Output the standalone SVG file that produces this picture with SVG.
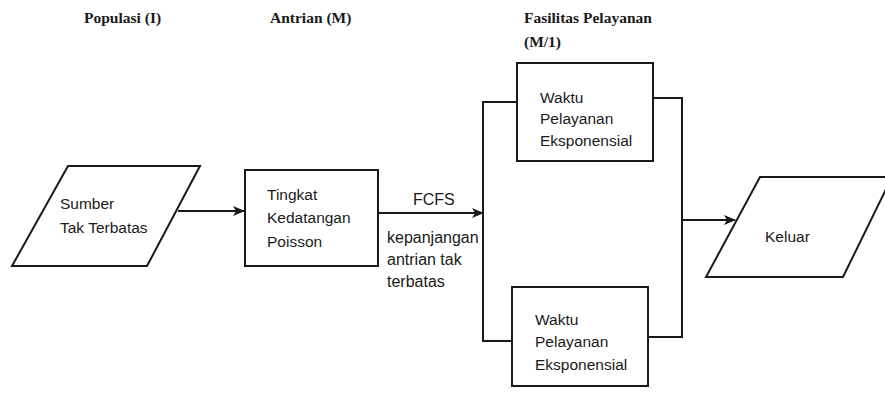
<svg xmlns="http://www.w3.org/2000/svg" width="885" height="410" viewBox="0 0 885 410">
  <style>
    .shape { fill: #ffffff; stroke: #1a1a1a; stroke-width: 2; stroke-linejoin: miter; }
    .line { fill: none; stroke: #1a1a1a; stroke-width: 2; }
    .body { font-family: "Liberation Sans", Arial, sans-serif; font-size: 15.5px; fill: #1a1a1a; }
    .lbl { font-size: 16px; }
    .head { font-family: "Liberation Serif", "Times New Roman", serif; font-size: 15.5px; font-weight: bold; fill: #1a1a1a; }
  </style>
  <defs>
    <marker id="arrow" viewBox="0 0 12 10" refX="11" refY="5" markerWidth="12" markerHeight="10" markerUnits="userSpaceOnUse" orient="auto">
      <path d="M0,0 L12,5 L0,10 L3,5 Z" fill="#1a1a1a"/>
    </marker>
  </defs>
  <rect width="885" height="410" fill="#ffffff"/>

  <g id="headers">
    <text class="head" x="84" y="23">Populasi (I)</text>
    <text class="head" x="270" y="23">Antrian (M)</text>
    <text class="head" x="524" y="23">Fasilitas Pelayanan</text>
    <text class="head" x="524" y="47">(M/1)</text>
  </g>

  <g id="connectors">
    <line class="line" x1="178" y1="211" x2="244" y2="211" marker-end="url(#arrow)"/>
    <line class="line" x1="378" y1="213" x2="483" y2="213" marker-end="url(#arrow)"/>
    <path class="line" d="M517,102 H483 V341 H512"/>
    <path class="line" d="M653,98 H682 V337 H649"/>
    <line class="line" x1="682" y1="220" x2="735" y2="220" marker-end="url(#arrow)"/>
  </g>

  <g id="sumber">
    <polygon class="shape" points="68,166 200,166 147,266 12,266"/>
    <text class="body" x="60" y="209">Sumber</text>
    <text class="body" x="60" y="233">Tak Terbatas</text>
  </g>

  <g id="tingkat">
    <rect class="shape" x="245" y="170" width="133" height="96"/>
    <text class="body" x="267" y="200">Tingkat</text>
    <text class="body" x="267" y="223">Kedatangan</text>
    <text class="body" x="267" y="247">Poisson</text>
  </g>

  <g id="fcfs-label">
    <text class="body lbl" x="413" y="205">FCFS</text>
    <text class="body lbl" x="387" y="243">kepanjangan</text>
    <text class="body lbl" x="387" y="265">antrian tak</text>
    <text class="body lbl" x="387" y="287">terbatas</text>
  </g>

  <g id="server1">
    <rect class="shape" x="517" y="63" width="136" height="98"/>
    <text class="body" x="540" y="103">Waktu</text>
    <text class="body" x="540" y="124">Pelayanan</text>
    <text class="body" x="540" y="146">Eksponensial</text>
  </g>

  <g id="server2">
    <rect class="shape" x="512" y="287" width="136" height="99"/>
    <text class="body" x="535" y="325">Waktu</text>
    <text class="body" x="535" y="347">Pelayanan</text>
    <text class="body" x="535" y="370">Eksponensial</text>
  </g>

  <g id="keluar">
    <polygon class="shape" points="760,177 892,177 843,277 706,277"/>
    <text class="body" x="765" y="242">Keluar</text>
  </g>
</svg>
